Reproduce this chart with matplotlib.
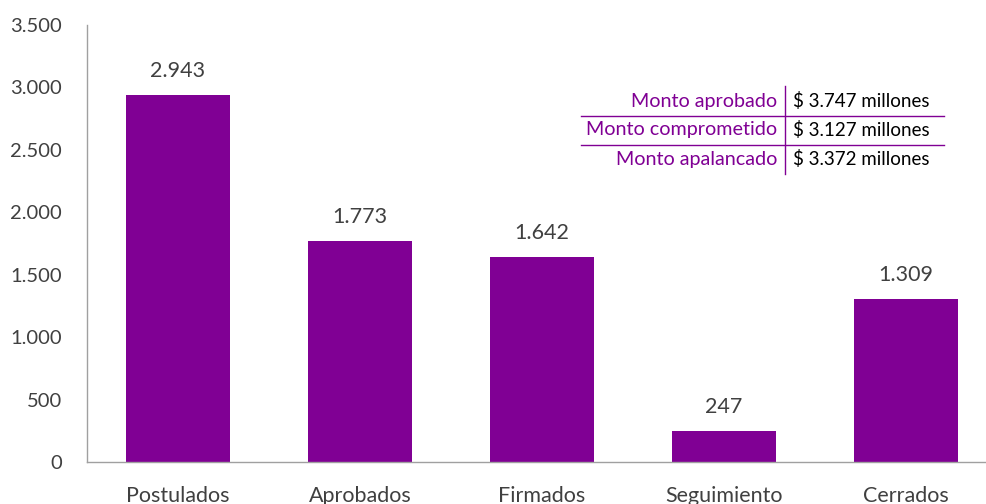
import matplotlib
matplotlib.use("Agg")
import matplotlib.pyplot as plt
from matplotlib.lines import Line2D

plt.rcParams['font.family'] = ['Lato', 'DejaVu Sans']

categories = ["Postulados", "Aprobados", "Firmados", "Seguimiento", "Cerrados"]
values = [2943, 1773, 1642, 247, 1309]
yticks = [0, 500, 1000, 1500, 2000, 2500, 3000, 3500]

table_labels = ["Monto aprobado", "Monto comprometido", "Monto apalancado"]
table_values = ["$ 3.747 millones", "$ 3.127 millones", "$ 3.372 millones"]

purple = "#800094"
gray_text = "#404040"


def fmt(v):
    return f"{v:,}".replace(",", ".")


W, H = 987, 504
fig = plt.figure(figsize=(W / 100, H / 100), dpi=100)
ax = fig.add_axes([87 / W, 42 / H, 910 / W, 437 / H])

x = range(len(categories))
ax.bar(x, values, width=0.57, color=purple)
ax.set_xlim(-0.5, len(categories) - 0.5)
ax.set_ylim(0, 3500)
ax.set_yticks(yticks)
ax.set_yticklabels([fmt(v) for v in yticks])
ax.set_xticks(list(x))
ax.set_xticklabels(categories)
ax.tick_params(length=0, colors=gray_text)
ax.tick_params(axis='y', pad=18, labelsize=14.5)
ax.tick_params(axis='x', pad=17, labelsize=15.5)

for s in ["top", "right"]:
    ax.spines[s].set_visible(False)
for s in ["left", "bottom"]:
    ax.spines[s].set_color("#a0a0a0")
    ax.spines[s].set_linewidth(1)

for xi, v in zip(x, values):
    ax.annotate(fmt(v), (xi, v), xytext=(0, 10), textcoords="offset points",
                ha="center", va="bottom", fontsize=15.5, color=gray_text)

# summary table, positioned in figure pixels
def fx(px):
    return px / W


def fy(py):
    return 1 - py / H


row_y = [101, 130, 159]
for lab, val, ry in zip(table_labels, table_values, row_y):
    fig.text(fx(777), fy(ry), lab, ha="right", va="center", fontsize=14.2, color=purple)
    fig.text(fx(793), fy(ry), val, ha="left", va="center", fontsize=13.5, color="black")

fig.add_artist(Line2D([fx(785), fx(785)], [fy(86), fy(174)], color=purple, lw=1))
for hy in [116, 145]:
    fig.add_artist(Line2D([fx(581), fx(944)], [fy(hy), fy(hy)], color=purple, lw=1))

fig.savefig("out.png", dpi=100)
